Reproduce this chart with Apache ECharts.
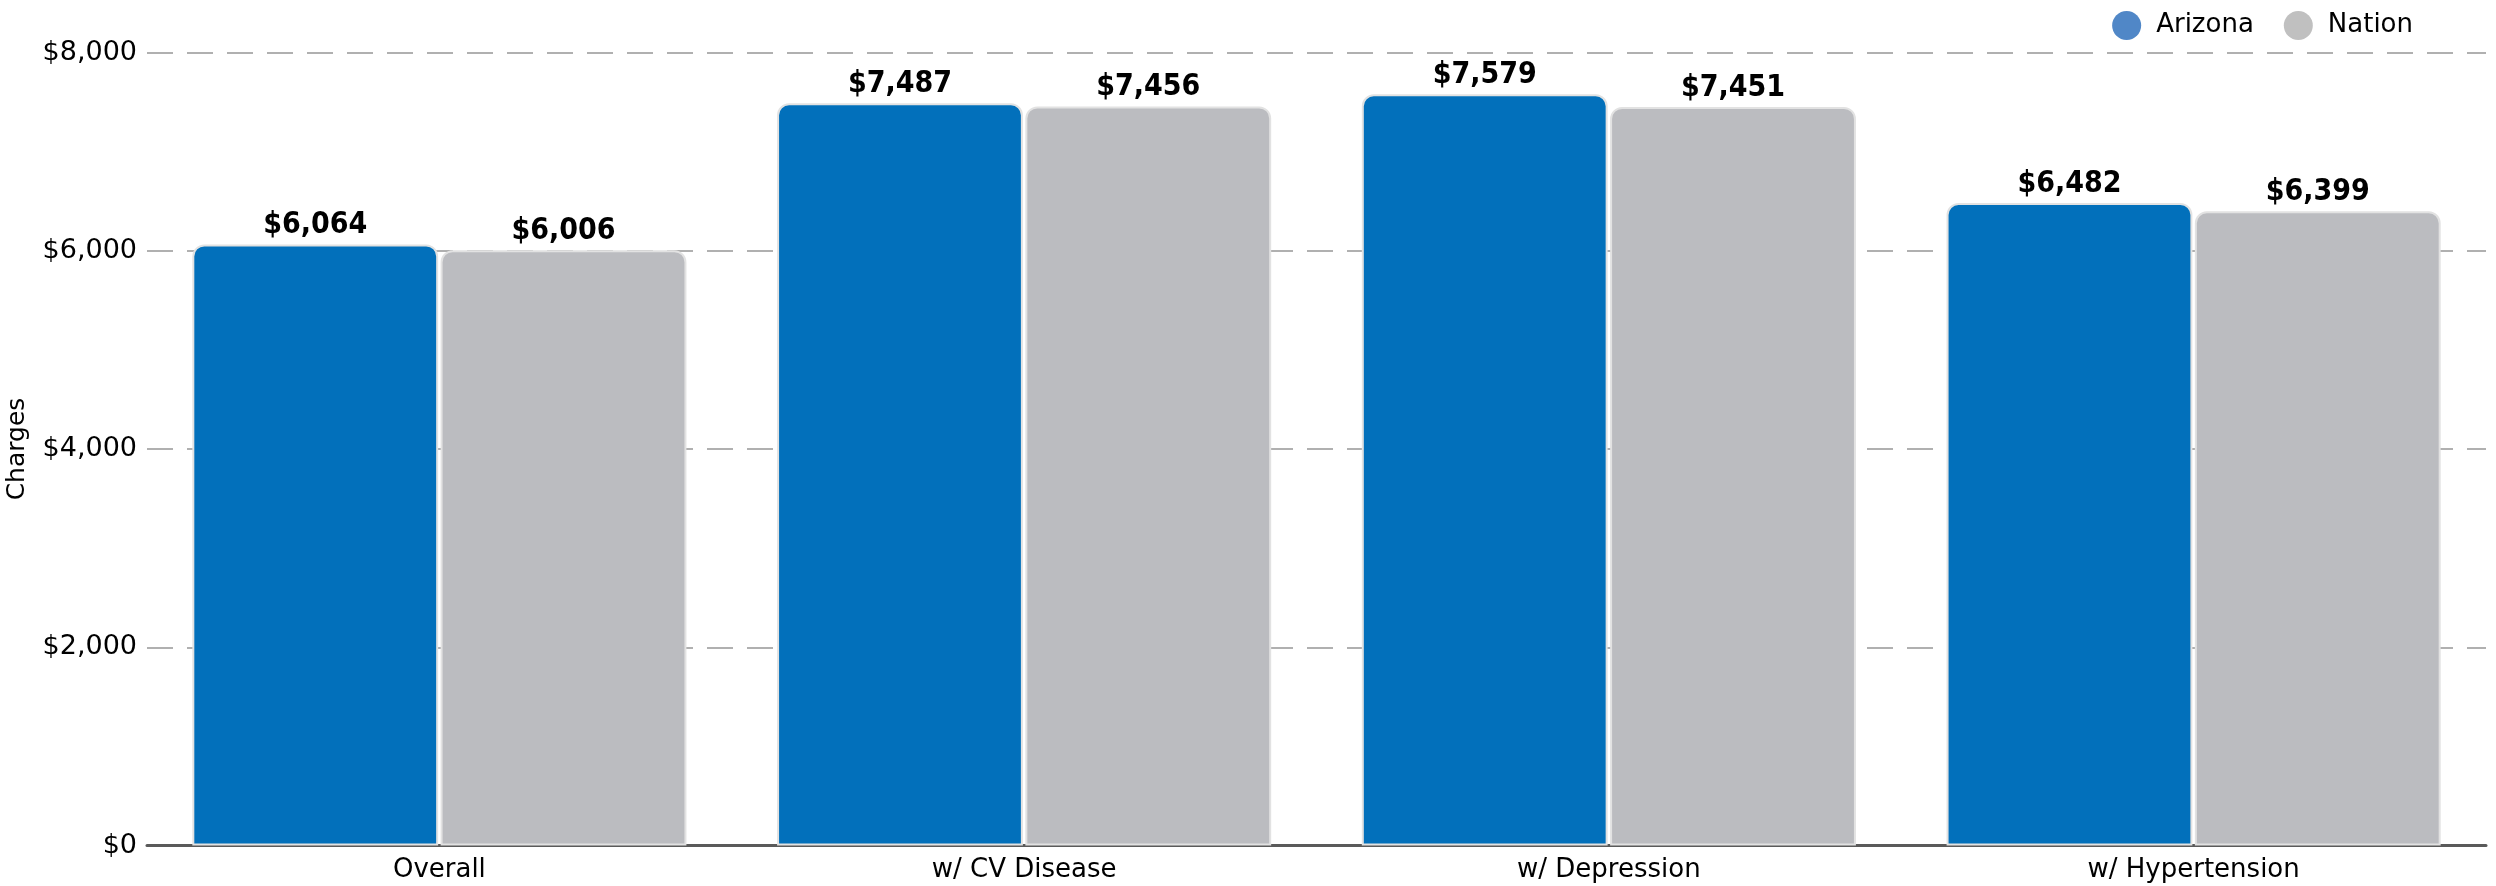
<!DOCTYPE html>
<html>
<head>
<meta charset="utf-8">
<script src="https://cdn.jsdelivr.net/npm/echarts@6/dist/echarts.min.js"></script>
<style>
html,body{margin:0;padding:0;background:#fff;}
#chart{width:2496px;height:886px;}
</style>
</head>
<body>
<div id="chart"></div>
<script>
var categories = ['Overall', 'w/ CV Disease', 'w/ Depression', 'w/ Hypertension'];
var arizona = [6064, 7487, 7579, 6482];
var nation = [6006, 7456, 7451, 6399];
var seriesNames = ['Arizona', 'Nation'];
var yMin = 0, yMax = 8000, yInterval = 2000;

function money(v) {
  return '$' + String(Math.round(v)).replace(/\B(?=(\d{3})+(?!\d))/g, ',');
}

var FONT = 'DejaVu Sans, Verdana, sans-serif';
var chart = echarts.init(document.getElementById('chart'));

var labelStyle = {
  show: true,
  position: 'top',
  distance: 4,
  fontFamily: 'DejaVu Sans Condensed, DejaVu Sans, sans-serif',
  fontWeight: 'bold',
  fontSize: 30,
  color: '#000',
  formatter: function (p) { return money(p.value); }
};

chart.setOption({
  animation: false,
  backgroundColor: '#fff',
  textStyle: { fontFamily: FONT },
  legend: {
    right: 78,
    top: 6,
    icon: 'circle',
    itemWidth: 29,
    itemHeight: 29,
    itemGap: 30,
    textStyle: { fontFamily: FONT, fontSize: 26, color: '#000', padding: [0, 0, 0, 10] },
    data: [
      { name: seriesNames[0], itemStyle: { color: '#5087c7', borderWidth: 0 } },
      { name: seriesNames[1], itemStyle: { color: '#c0c0c0', borderWidth: 0 } }
    ]
  },
  grid: { left: 147, right: 10, top: 52.5, bottom: 40.5, containLabel: false, outerBoundsMode: 'none' },
  xAxis: {
    type: 'category',
    data: categories,
    axisLine: { show: true, lineStyle: { color: '#5a5a5a', width: 3 } },
    axisTick: { show: false },
    axisLabel: { fontFamily: FONT, fontSize: 26, color: '#000', margin: 12 }
  },
  yAxis: {
    type: 'value',
    min: yMin,
    max: yMax,
    interval: yInterval,
    name: 'Charges',
    nameLocation: 'middle',
    nameGap: 117,
    nameTextStyle: { fontFamily: FONT, fontSize: 25, color: '#000' },
    axisLine: { show: false },
    axisTick: { show: false },
    axisLabel: { fontFamily: FONT, fontSize: 27, color: '#000', margin: 10, formatter: money },
    splitLine: { show: true, lineStyle: { color: '#b0b0b0', width: 2, type: [26, 14] } }
  },
  series: [
    {
      name: seriesNames[0],
      type: 'bar',
      data: arizona,
      barGap: '1%',
      barCategoryGap: '15.5%',
      itemStyle: { color: '#0270bb', borderColor: '#e2e2e2', borderWidth: 2, borderRadius: [11, 11, 0, 0] },
      label: labelStyle
    },
    {
      name: seriesNames[1],
      type: 'bar',
      data: nation,
      barGap: '1%',
      barCategoryGap: '15.5%',
      itemStyle: { color: '#bbbcc0', borderColor: '#e2e2e2', borderWidth: 2, borderRadius: [11, 11, 0, 0] },
      label: labelStyle
    }
  ]
});
</script>
</body>
</html>
